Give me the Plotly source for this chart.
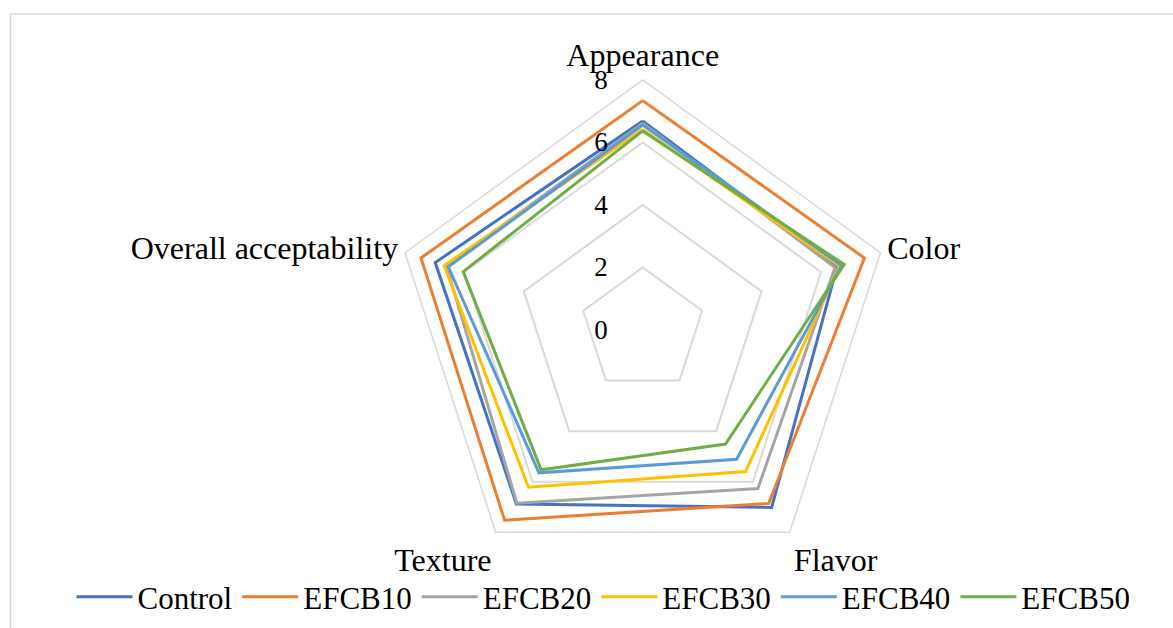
import plotly.graph_objects as go

W, H = 1173, 628

attributes = ["Appearance", "Color", "Flavor", "Texture", "Overall acceptability"]

control = [6.69, 6.54, 7.02, 6.88, 6.98]
efcb10 = [7.34, 7.46, 6.86, 7.52, 7.46]
efcb20 = [6.62, 6.47, 6.27, 6.85, 6.60]
efcb30 = [6.42, 6.62, 5.60, 6.22, 6.68]
efcb40 = [6.56, 6.69, 5.11, 5.65, 6.54]
efcb50 = [6.37, 6.78, 4.51, 5.53, 6.04]

series_names = ["Control", "EFCB10", "EFCB20", "EFCB30", "EFCB40", "EFCB50"]
series_values = [control, efcb10, efcb20, efcb30, efcb40, efcb50]
series_colors = ["#4472C4", "#ED7D31", "#A5A5A5", "#FFC000", "#5B9BD5", "#70AD47"]

radial_ticks = [0, 2, 4, 6, 8]

FONT = "'Liberation Serif', 'Times New Roman', serif"
GRID = "#D9D9D9"

fig = go.Figure()
for name, vals, col in zip(series_names, series_values, series_colors):
    fig.add_trace(go.Scatterpolar(
        r=vals + vals[:1],
        theta=attributes + attributes[:1],
        mode="lines",
        name=name,
        line=dict(color=col, width=3),
    ))

# polar area: centre (642.7, 330), radius 250 px
cx, cy, rad = 642.7, 330.0, 250.0
dom_x = [(cx - rad) / W, (cx + rad) / W]
dom_y = [1 - (cy + rad) / H, 1 - (cy - rad) / H]

fig.update_layout(
    template="none",
    width=W, height=H,
    margin=dict(l=0, r=0, t=0, b=0),
    paper_bgcolor="white",
    plot_bgcolor="white",
    font=dict(family=FONT, color="black", size=31),
    polar=dict(
        domain=dict(x=dom_x, y=dom_y),
        bgcolor="white",
        gridshape="linear",
        radialaxis=dict(
            range=[0, 8],
            tickvals=radial_ticks,
            ticktext=[str(v) for v in radial_ticks],
            angle=90,
            tickangle=90,
            side="counterclockwise",
            showline=False,
            ticks="outside",
            ticklen=25,
            tickcolor="rgba(0,0,0,0)",
            gridcolor=GRID,
            gridwidth=1.5,
            tickfont=dict(size=27, family=FONT, color="black"),
        ),
        angularaxis=dict(
            categoryorder="array",
            categoryarray=attributes,
            rotation=90,
            direction="clockwise",
            showgrid=False,
            showline=True,
            linecolor=GRID,
            linewidth=1.5,
            ticks="",
            tickfont=dict(size=32, family=FONT, color="black"),
        ),
    ),
    legend=dict(
        orientation="h",
        x=603.5 / W, xanchor="center",
        y=1 - 597 / H, yanchor="middle",
        font=dict(size=31, family=FONT, color="black"),
        bgcolor="rgba(0,0,0,0)",
        itemwidth=56,
        tracegroupgap=0,
    ),
    shapes=[dict(
        type="rect", xref="paper", yref="paper",
        x0=10.5 / W, x1=1.02, y0=-0.02, y1=1 - 14 / H,
        line=dict(color=GRID, width=1.5),
        fillcolor="rgba(0,0,0,0)",
        layer="below",
    )],
)

fig.write_html("out.html")
